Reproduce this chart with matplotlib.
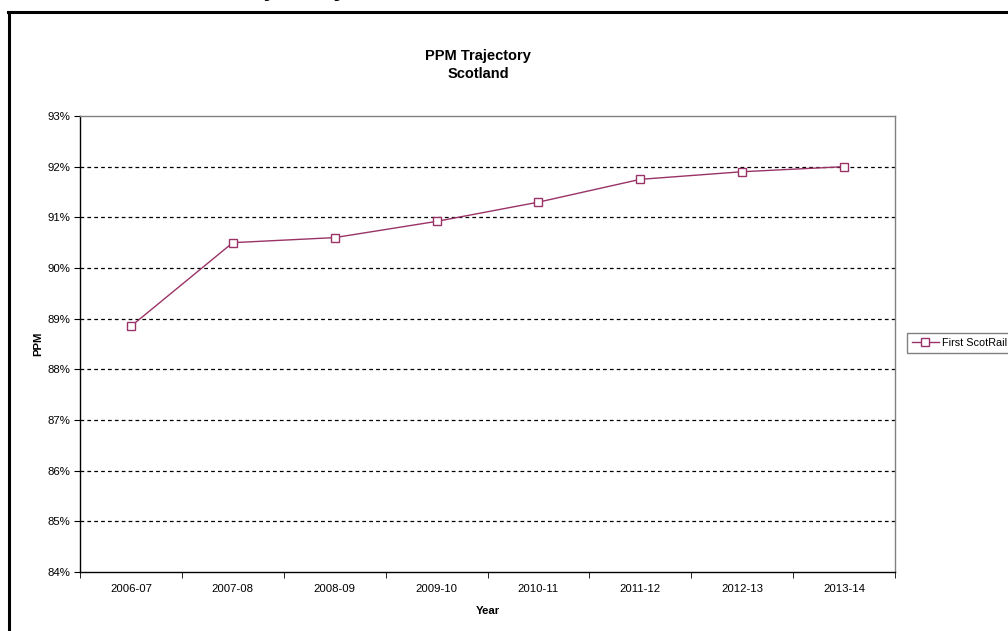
import matplotlib
matplotlib.use("Agg")
import matplotlib.pyplot as plt
from matplotlib.lines import Line2D
from matplotlib.ticker import FixedLocator, FuncFormatter

plt.rcParams['font.family'] = ['Liberation Sans', 'DejaVu Sans']

years = ["2006-07", "2007-08", "2008-09", "2009-10", "2010-11", "2011-12", "2012-13", "2013-14"]
ppm = [88.85, 90.5, 90.6, 90.92, 91.3, 91.75, 91.9, 92.0]
y_ticks = [84, 85, 86, 87, 88, 89, 90, 91, 92, 93]
series_name = "First ScotRail"

W, H = 1008, 631
fig = plt.figure(figsize=(W / 100, H / 100), dpi=100)
fig.patch.set_facecolor("white")

def fx(px):
    return px / W

def fy(py):
    return 1 - py / H

# plot area
left, right, top, bottom = 80, 895, 116, 572
ax = fig.add_axes([fx(left), fy(bottom), fx(right - left), (bottom - top) / H])

line_color = "#993366"
xs = list(range(len(years)))
ax.plot(xs, ppm, color=line_color, lw=1.0, marker="s", markersize=6,
        markerfacecolor="white", markeredgecolor=line_color, markeredgewidth=1.0,
        label=series_name, zorder=3)

ax.set_xlim(-0.5, len(years) - 0.5)
ax.set_ylim(84, 93)

fs = 8.2

# category labels centred, tick marks at category boundaries
ax.set_xticks(xs)
ax.set_xticklabels(years, fontsize=fs)
ax.xaxis.set_minor_locator(FixedLocator([i - 0.5 for i in range(len(years) + 1)]))
ax.tick_params(axis="x", which="major", length=0, pad=9)
ax.tick_params(axis="x", which="minor", length=4, direction="out", color="black")

ax.yaxis.set_major_locator(FixedLocator(y_ticks))
ax.yaxis.set_major_formatter(FuncFormatter(lambda v, p: f"{v:.0f}%"))
ax.tick_params(axis="y", length=4, direction="out", labelsize=fs, pad=3, color="black")

for v in y_ticks[1:-1]:
    ax.axhline(v, color="black", lw=0.9, ls=(0, (3, 2.5)), zorder=1)

for s in ["top", "right"]:
    ax.spines[s].set_color("#808080")
    ax.spines[s].set_linewidth(1.0)
for s in ["left", "bottom"]:
    ax.spines[s].set_color("black")
    ax.spines[s].set_linewidth(1.0)

ax.set_ylabel("PPM", fontsize=fs, fontweight="bold", labelpad=3)
ax.set_xlabel("Year", fontsize=fs, fontweight="bold", labelpad=8)

fig.text(fx(478), fy(65), "PPM Trajectory\nScotland", ha="center", va="center",
         fontsize=10.5, fontweight="bold", linespacing=1.3)

# heading above the chart frame (mostly outside the page)
fig.text(fx(168), fy(-4), "PPM Trajectory", ha="left", va="baseline",
         fontsize=18, fontweight="bold", fontstyle="italic")

# chart frame: left and top edges
fig.add_artist(Line2D([fx(9), fx(9)], [fy(12), fy(H + 5)], color="black", lw=2.2))
fig.add_artist(Line2D([fx(8), fx(W + 5)], [fy(12), fy(12)], color="black", lw=2.2))

leg = fig.legend(loc="center left", bbox_to_anchor=(fx(907), fy(343)), fontsize=7.8,
                 frameon=True, fancybox=False, edgecolor="#808080", framealpha=1,
                 handlelength=2.5, handletextpad=0.25, borderpad=0.45, borderaxespad=0)
leg.get_frame().set_linewidth(1.0)

fig.savefig("out.png", dpi=100, facecolor="white")
